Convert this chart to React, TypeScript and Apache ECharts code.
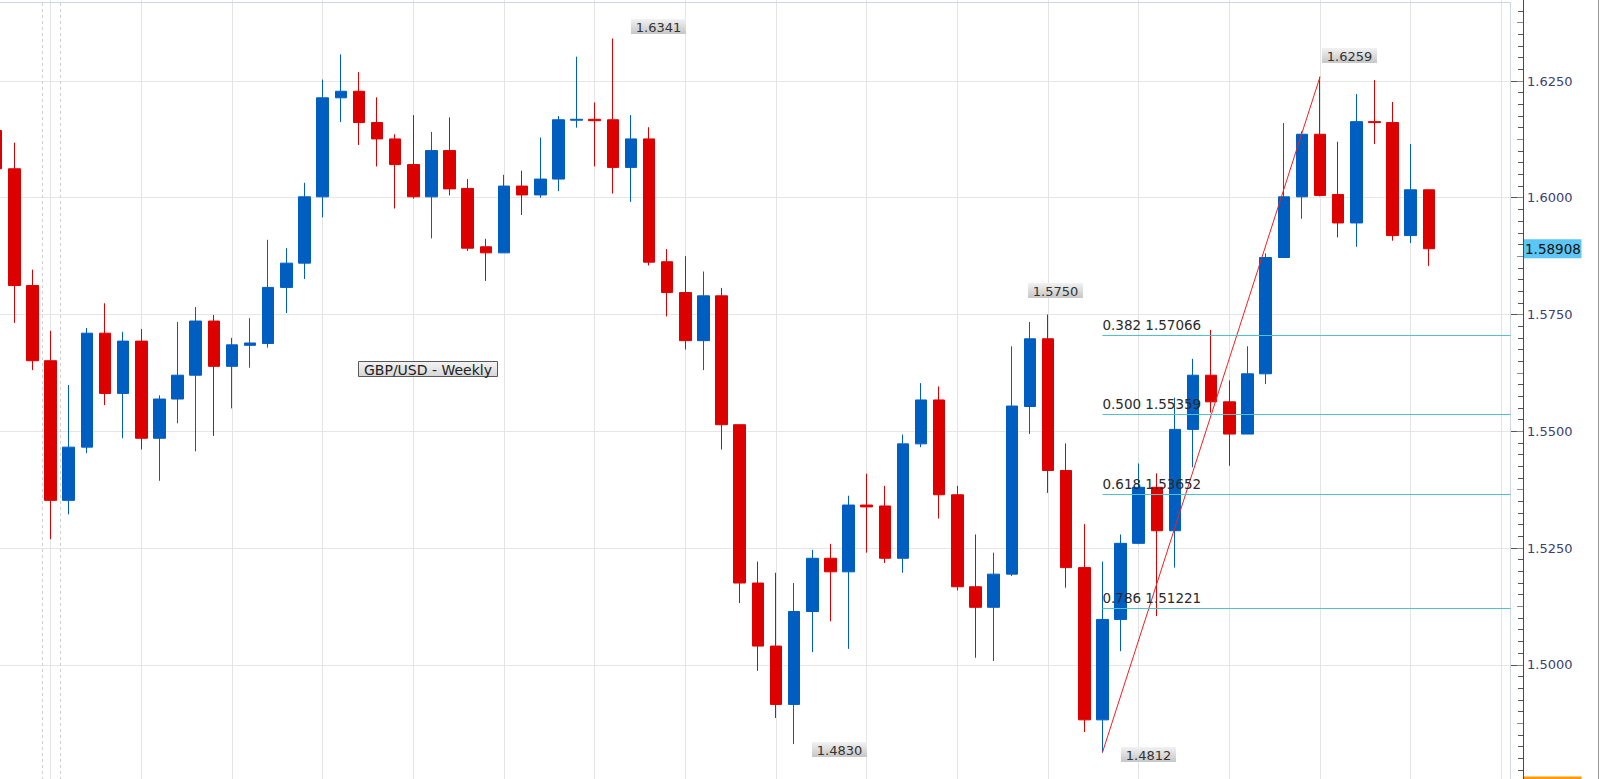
import React, { useEffect, useRef } from "react";
import * as echarts from "echarts";

// ---------------- data ----------------
const SLOT_COUNT = 84;
const CATEGORIES = Array.from({ length: SLOT_COUNT }, (_, i) => `W${i + 1}`);

const OPEN = [
  1.6144, 1.6062, 1.5812, 1.5651, 1.5352, 1.5466, 1.571, 1.5581, 1.5693, 1.5485,
  1.5569, 1.562, 1.5736, 1.5639, 1.5684, 1.5688, 1.5808, 1.586, 1.6002, 1.6214,
  1.6228, 1.6161, 1.6126, 1.6071, 1.6002, 1.6101, 1.602, 1.5895, 1.5882, 1.6025,
  1.6006, 1.604, 1.6166, 1.6168, 1.6167, 1.6065, 1.6126, 1.5863, 1.5797, 1.5694,
  1.579, 1.5514, 1.5175, 1.504, 1.4915, 1.5114, 1.5228, 1.5199, 1.5342, 1.534,
  1.5228, 1.5473, 1.5567, 1.5364, 1.5167, 1.5123, 1.5194, 1.5553, 1.5698, 1.5416,
  1.5208, 1.4882, 1.5097, 1.526, 1.538, 1.5287, 1.5504, 1.562, 1.5563, 1.5494,
  1.5623, 1.5872, 1.6002, 1.6136, 1.6007, 1.5946, 1.6163, 1.6161, 1.5919, 1.6017,
];
const CLOSE = [
  1.6062, 1.5812, 1.5651, 1.5352, 1.5466, 1.571, 1.5581, 1.5693, 1.5485, 1.5569,
  1.562, 1.5736, 1.5639, 1.5685, 1.5689, 1.5808, 1.586, 1.6002, 1.6214, 1.6228,
  1.6161, 1.6126, 1.6071, 1.6002, 1.6101, 1.6019, 1.5892, 1.5882, 1.6025, 1.6006,
  1.604, 1.6167, 1.6168, 1.6165, 1.6065, 1.6126, 1.5862, 1.5797, 1.5694, 1.579,
  1.5514, 1.5175, 1.504, 1.4915, 1.5114, 1.5228, 1.5199, 1.5342, 1.5338, 1.5228,
  1.5473, 1.5567, 1.5364, 1.5167, 1.5123, 1.5194, 1.5554, 1.5698, 1.5416, 1.5208,
  1.4882, 1.5097, 1.526, 1.538, 1.5287, 1.5504, 1.562, 1.5563, 1.5494, 1.5623,
  1.5872, 1.6002, 1.6136, 1.6005, 1.5946, 1.6163, 1.6161, 1.5919, 1.6017, 1.58908,
];
const LOW = [
  1.604, 1.5732, 1.5631, 1.5269, 1.5322, 1.5453, 1.5556, 1.5485, 1.5461, 1.5394,
  1.5517, 1.5457, 1.549, 1.5549, 1.5636, 1.5679, 1.5753, 1.5826, 1.5958, 1.6162,
  1.6113, 1.6067, 1.5977, 1.5998, 1.5913, 1.6005, 1.5886, 1.5822, 1.5882, 1.5963,
  1.6, 1.6014, 1.615, 1.6067, 1.6009, 1.5991, 1.5855, 1.5746, 1.5675, 1.5631,
  1.5461, 1.5132, 1.4987, 1.4886, 1.483, 1.5027, 1.5093, 1.5034, 1.524, 1.5218,
  1.5197, 1.5466, 1.5313, 1.5159, 1.5015, 1.5008, 1.519, 1.5494, 1.5368, 1.5165,
  1.4856, 1.4812, 1.5029, 1.5258, 1.5104, 1.5208, 1.5423, 1.554, 1.5426, 1.5494,
  1.5601, 1.5872, 1.5955, 1.6003, 1.5915, 1.5895, 1.6115, 1.5908, 1.5903, 1.5854,
];
const HIGH = [
  1.618, 1.6118, 1.5846, 1.5715, 1.5599, 1.5721, 1.5774, 1.5713, 1.5719, 1.5577,
  1.5734, 1.5766, 1.5749, 1.57, 1.5742, 1.591, 1.5892, 1.6032, 1.6253, 1.6307,
  1.6269, 1.6215, 1.6136, 1.6177, 1.6141, 1.6172, 1.604, 1.5912, 1.6049, 1.6058,
  1.6129, 1.6175, 1.6302, 1.6204, 1.6341, 1.6177, 1.6151, 1.589, 1.5875, 1.5842,
  1.5807, 1.5514, 1.5221, 1.5197, 1.5175, 1.5246, 1.5259, 1.5362, 1.5409, 1.5383,
  1.5493, 1.5603, 1.5596, 1.5383, 1.5279, 1.524, 1.5682, 1.5734, 1.575, 1.5474,
  1.5301, 1.5221, 1.5279, 1.5431, 1.541, 1.5572, 1.5655, 1.5717, 1.5609, 1.5682,
  1.5881, 1.616, 1.6142, 1.6259, 1.612, 1.6222, 1.6252, 1.6205, 1.6115, 1.6017,
];

const LAST_PRICE = 1.58908;
const LAST_PRICE_TEXT = "1.58908";
const BOTTOM_TAG = 1.47404;
const BOTTOM_TAG_TEXT = "1.47404";

const Y_MIN = 1.475;
const Y_MAX = 1.65;
const Y_STEP = 0.025;
const Y_MID_STEP = 0.0125;

const GRID_IDX = [3, 8, 13, 18, 23, 28, 33, 38, 43, 48, 53, 58, 63, 68, 73, 78, 83];
const MARKED_IDX = 3;

const SWING_IDX = [34, 73, 58, 44, 61];
const SWING_VAL = [1.6341, 1.6259, 1.575, 1.483, 1.4812];
const SWING_TXT = ["1.6341", "1.6259", "1.5750", "1.4830", "1.4812"];

const FIB_START_IDX = 61;
const FIB_RATIO = ["0.382", "0.500", "0.618", "0.786"];
const FIB_VAL = [1.57066, 1.55359, 1.53652, 1.51221];

const TREND_FROM_IDX = 61;
const TREND_FROM_VAL = 1.4812;
const TREND_TO_IDX = 73;
const TREND_TO_VAL = 1.6259;

const TITLE = "GBP/USD - Weekly";

// ---------------- layout / style ----------------
const W = 1600;
const H = 779;
// the chart canvas is larger than the window and shifted up/left so that
// the plot can start slightly outside the visible page
const OX = 40;
const OY = 60;
const CW = W + OX;
const CH = H + OY + 20;

const PX_PER_UNIT = 4670;
const Y_REF_VAL = 1.625;
const Y_REF_PX = 81;
const SLOT = 18.135;
const FIRST_CENTER = -3.8;
const GRID_LEFT = FIRST_CENTER - SLOT / 2; // screen px
const GRID_RIGHT_PX = GRID_LEFT + SLOT * SLOT_COUNT; // screen px
const GRID_TOP = Y_REF_PX - (Y_MAX - Y_REF_VAL) * PX_PER_UNIT; // screen px
const GRID_BOTTOM_PX = Y_REF_PX + (Y_REF_VAL - Y_MIN) * PX_PER_UNIT; // screen px
const AXIS_X = 1523; // screen px

const sx = (x: number) => x + OX;
const sy = (y: number) => y + OY;

const BLUE = "#005ec0";
const RED = "#dd0000";
const FONT = '"DejaVu Sans", Verdana, sans-serif';

// swing label box offsets (from the anchor point)
const SWING_OFFSET: [number, number][] = [
  [18, -19.5],
  [2, -28.5],
  [-20.5, -32],
  [18, -2],
  [19, -5.5],
];

export default function App() {
  const ref = useRef<HTMLDivElement>(null);

  useEffect(() => {
    if (!ref.current) return;
    document.documentElement.style.overflow = "hidden";
    document.body.style.overflow = "hidden";
    const chart = echarts.init(ref.current, null, { renderer: "svg" });

    const candleData = OPEN.map((o, i) => [o, CLOSE[i], LOW[i], HIGH[i]]);

    chart.setOption({
      animation: false,
      backgroundColor: "#ffffff",
      grid: {
        left: sx(GRID_LEFT),
        top: sy(GRID_TOP),
        right: CW - sx(GRID_RIGHT_PX),
        bottom: CH - sy(GRID_BOTTOM_PX),
        containLabel: false,
      },
      xAxis: {
        type: "category",
        data: CATEGORIES,
        boundaryGap: true,
        axisLine: { show: false },
        axisTick: { show: false },
        axisLabel: { show: false },
        splitLine: { show: false },
      },
      yAxis: [
        {
          type: "value",
          position: "right",
          offset: AXIS_X - GRID_RIGHT_PX,
          min: Y_MIN,
          max: Y_MAX,
          interval: Y_STEP,
          axisLine: { show: true, lineStyle: { color: "#4a4a4a", width: 1 } },
          axisTick: { show: true, inside: true, length: 12, lineStyle: { color: "#555555" } },
          minorTick: { show: true, splitNumber: 10, length: 5, lineStyle: { color: "#555555" } },
          axisLabel: {
            show: true,
            margin: 4,
            showMinLabel: false,
            showMaxLabel: false,
            formatter: (v: number) => v.toFixed(4),
            fontFamily: FONT,
            fontSize: 13,
            color: "#3d4070",
          },
          splitLine: { show: true, lineStyle: { color: "#e6e6e6", width: 1 } },
        },
        {
          type: "value",
          position: "right",
          offset: AXIS_X - GRID_RIGHT_PX,
          min: Y_MIN,
          max: Y_MAX,
          interval: Y_MID_STEP,
          axisLine: { show: false },
          axisTick: { show: true, inside: true, length: 6, lineStyle: { color: "#8a8a8a" } },
          axisLabel: { show: false },
          splitLine: { show: false },
        },
      ],
      series: [
        {
          type: "line",
          name: "grid",
          data: [],
          silent: true,
          z: 0,
          markLine: {
            silent: true,
            z: 0,
            symbol: ["none", "none"],
            label: { show: false },
            lineStyle: { color: "#e4e4e4", type: "solid", width: 1 },
            data: GRID_IDX.map((i) => ({ xAxis: CATEGORIES[i] })),
          },
        },
        {
          type: "candlestick",
          name: "GBP/USD",
          data: candleData,
          barWidth: 12,
          z: 3,
          itemStyle: {
            color: BLUE,
            color0: RED,
            borderColor: BLUE,
            borderColor0: RED,
            borderWidth: 1,
          },
          markLine: {
            silent: true,
            z: 5,
            symbol: ["none", "none"],
            label: { show: false },
            lineStyle: { color: "#f02020", type: "solid", width: 1 },
            data: [
              [
                { coord: [CATEGORIES[TREND_FROM_IDX], TREND_FROM_VAL] },
                { coord: [CATEGORIES[TREND_TO_IDX], TREND_TO_VAL] },
              ],
            ],
          },
        },
      ],
    });

    // pixel position in chart (canvas) coordinates
    const toPx = (idx: number, val: number) =>
      chart.convertToPixel({ xAxisIndex: 0, yAxisIndex: 0 }, [idx, val]) as number[];

    const boxGrad = () =>
      new echarts.graphic.LinearGradient(0, 0, 0, 1, [
        { offset: 0, color: "#f2f2f2" },
        { offset: 1, color: "#c6c6c6" },
      ]);

    const graphics: any[] = [];
    const gridRight = sx(GRID_RIGHT_PX);

    // plot border
    const borderColor = "#cdd6e2";
    graphics.push({
      type: "line",
      silent: true,
      shape: { x1: 0, y1: sy(2.5), x2: gridRight, y2: sy(2.5) },
      style: { stroke: borderColor, lineWidth: 1 },
    });
    graphics.push({
      type: "line",
      silent: true,
      shape: { x1: gridRight, y1: sy(2.5), x2: gridRight, y2: CH },
      style: { stroke: borderColor, lineWidth: 1 },
    });
    graphics.push({
      type: "line",
      silent: true,
      shape: { x1: sx(1598.5), y1: 0, x2: sx(1598.5), y2: CH },
      style: { stroke: "#9a9a9a", lineWidth: 1 },
    });

    // dashed marker lines around one candle
    const mx = toPx(MARKED_IDX, Y_MIN)[0];
    [mx - SLOT / 2, mx + SLOT / 2].forEach((x) => {
      graphics.push({
        type: "line",
        silent: true,
        z: 0,
        shape: { x1: Math.round(x) + 0.5, y1: sy(3), x2: Math.round(x) + 0.5, y2: CH },
        style: { stroke: "#cfcfcf", lineWidth: 1, lineDash: [3, 3] },
      });
    });

    // fibonacci levels
    FIB_VAL.forEach((v, i) => {
      const [x0, y] = toPx(FIB_START_IDX, v);
      const yy = Math.round(y) + 0.5;
      graphics.push({
        type: "line",
        silent: true,
        shape: { x1: x0, y1: yy, x2: gridRight, y2: yy },
        style: { stroke: "#4fc3c9", lineWidth: 1 },
        z: 50,
      });
      graphics.push({
        type: "text",
        silent: true,
        z: 51,
        style: {
          text: `${FIB_RATIO[i]} ${v.toFixed(5)}`,
          x: x0,
          y: yy - 4,
          textAlign: "left",
          textVerticalAlign: "bottom",
          font: `13.5px ${FONT}`,
          fill: "#2a2a2a",
        },
      });
    });

    // swing labels
    SWING_IDX.forEach((idx, i) => {
      const [ax, ay] = toPx(idx, SWING_VAL[i]);
      const bx = Math.round(ax + SWING_OFFSET[i][0]);
      const by = Math.round(ay + SWING_OFFSET[i][1]);
      const bw = 55;
      const bh = 15;
      graphics.push({
        type: "group",
        silent: true,
        z: 60,
        children: [
          {
            type: "rect",
            shape: { x: bx, y: by, width: bw, height: bh },
            style: { fill: boxGrad() },
          },
          {
            type: "text",
            style: {
              text: SWING_TXT[i],
              x: bx + bw / 2,
              y: by + bh / 2 + 0.5,
              textAlign: "center",
              textVerticalAlign: "middle",
              font: `13px ${FONT}`,
              fill: "#333333",
            },
          },
        ],
      });
    });

    // title box
    graphics.push({
      type: "group",
      silent: true,
      z: 60,
      children: [
        {
          type: "rect",
          shape: { x: sx(358.5), y: sy(361.5), width: 139, height: 15 },
          style: {
            fill: new echarts.graphic.LinearGradient(0, 0, 0, 1, [
              { offset: 0, color: "#f4f4f4" },
              { offset: 1, color: "#d6d6d6" },
            ]),
            stroke: "#5a5a5a",
            lineWidth: 1,
          },
        },
        {
          type: "text",
          style: {
            text: TITLE,
            x: sx(428),
            y: sy(369.5),
            textAlign: "center",
            textVerticalAlign: "middle",
            font: `14px ${FONT}`,
            fill: "#222222",
          },
        },
      ],
    });

    // price tags on the axis
    const tag = (val: number, txt: string, fill: string) => {
      const y = toPx(0, val)[1];
      graphics.push({
        type: "group",
        silent: true,
        z: 70,
        children: [
          {
            type: "rect",
            shape: { x: sx(AXIS_X + 0.5), y: y - 9.5, width: 58, height: 19 },
            style: { fill },
          },
          {
            type: "text",
            style: {
              text: txt,
              x: sx(AXIS_X + 2),
              y: y + 0.5,
              textAlign: "left",
              textVerticalAlign: "middle",
              font: `13.5px ${FONT}`,
              fill: "#111111",
            },
          },
        ],
      });
    };
    tag(LAST_PRICE, LAST_PRICE_TEXT, "#5cc6f6");
    tag(BOTTOM_TAG, BOTTOM_TAG_TEXT, "#ff9a00");

    chart.setOption({ graphic: graphics });

    return () => {
      chart.dispose();
    };
  }, []);

  return (
    <div
      ref={ref}
      style={{
        position: "fixed",
        left: -OX,
        top: -OY,
        width: CW,
        height: CH,
        background: "#fff",
      }}
    />
  );
}
